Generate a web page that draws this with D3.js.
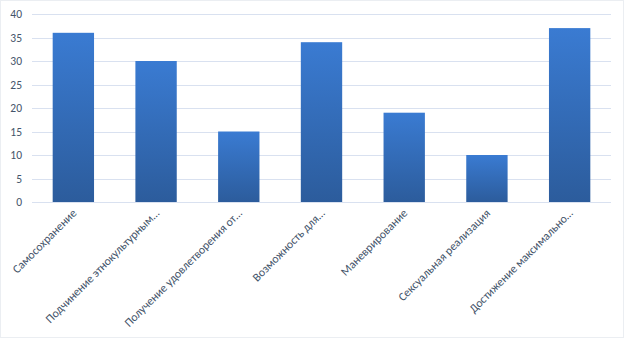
<!DOCTYPE html>
<html>
<head>
<meta charset="utf-8">
<script src="https://cdn.jsdelivr.net/npm/d3@7"></script>
<style>
  html, body { margin: 0; padding: 0; background: #fff; }
  svg { display: block; font-family: Calibri, Carlito, "Liberation Sans", "Open Sans", sans-serif; }
</style>
</head>
<body>
<div id="chart"></div>
<script>
const categories = [
  'Самосохранение',
  'Подчинение этнокультурным…',
  'Получение удовлетворения от…',
  'Возможность для…',
  'Маневрирование',
  'Сексуальная реализация',
  'Достижение максимально…'
];
const values = [36, 30, 15, 34, 19, 10, 37];
const yTicks = [0, 5, 10, 15, 20, 25, 30, 35, 40];

const width = 625, height = 340;
const margin = { top: 14, right: 14, bottom: 138, left: 32 };

const svg = d3.select('#chart').append('svg')
  .attr('width', width)
  .attr('height', height);

// chart border
svg.append('rect')
  .attr('x', 0.5).attr('y', 0.5)
  .attr('width', width - 2).attr('height', height - 3)
  .attr('fill', '#fff')
  .attr('stroke', '#d6dce5')
  .attr('stroke-dasharray', '1,1');

const defs = svg.append('defs');
const grad = defs.append('linearGradient')
  .attr('id', 'barGrad')
  .attr('x1', 0).attr('y1', 0).attr('x2', 0).attr('y2', 1);
grad.append('stop').attr('offset', '0%').attr('stop-color', '#3a7bd2');
grad.append('stop').attr('offset', '100%').attr('stop-color', '#2c5c9c');

const x = d3.scaleBand()
  .domain(categories)
  .range([margin.left, width - margin.right])
  .paddingInner(0.5)
  .paddingOuter(0.25);

const y = d3.scaleLinear()
  .domain([0, 40])
  .range([height - margin.bottom, margin.top]);

// gridlines
svg.append('g')
  .selectAll('line')
  .data(yTicks)
  .join('line')
  .attr('x1', margin.left)
  .attr('x2', width - margin.right)
  .attr('y1', d => Math.round(y(d)) + 0.5)
  .attr('y2', d => Math.round(y(d)) + 0.5)
  .attr('stroke', '#d9e1f0')
  .attr('stroke-width', 1);

// y tick labels
svg.append('g')
  .selectAll('text')
  .data(yTicks)
  .join('text')
  .attr('x', 22)
  .attr('y', d => y(d))
  .attr('dy', '0.35em')
  .attr('text-anchor', 'end')
  .attr('font-size', 11.5)
  .attr('fill', '#44546a')
  .text(d => d);

// bars
svg.append('g')
  .selectAll('rect')
  .data(values)
  .join('rect')
  .attr('x', (d, i) => x(categories[i]))
  .attr('y', d => y(d))
  .attr('width', x.bandwidth())
  .attr('height', d => y(0) - y(d))
  .attr('fill', 'url(#barGrad)');

// category labels, rotated
svg.append('g')
  .selectAll('text')
  .data(categories)
  .join('text')
  .attr('transform', d => `translate(${x(d) + x.bandwidth() / 2 + 1},${y(0) + 9}) rotate(-45)`)
  .attr('text-anchor', 'end')
  .attr('dy', '0.35em')
  .attr('font-size', 11.8)
  .attr('fill', '#44546a')
  .text(d => d);
</script>
</body>
</html>
